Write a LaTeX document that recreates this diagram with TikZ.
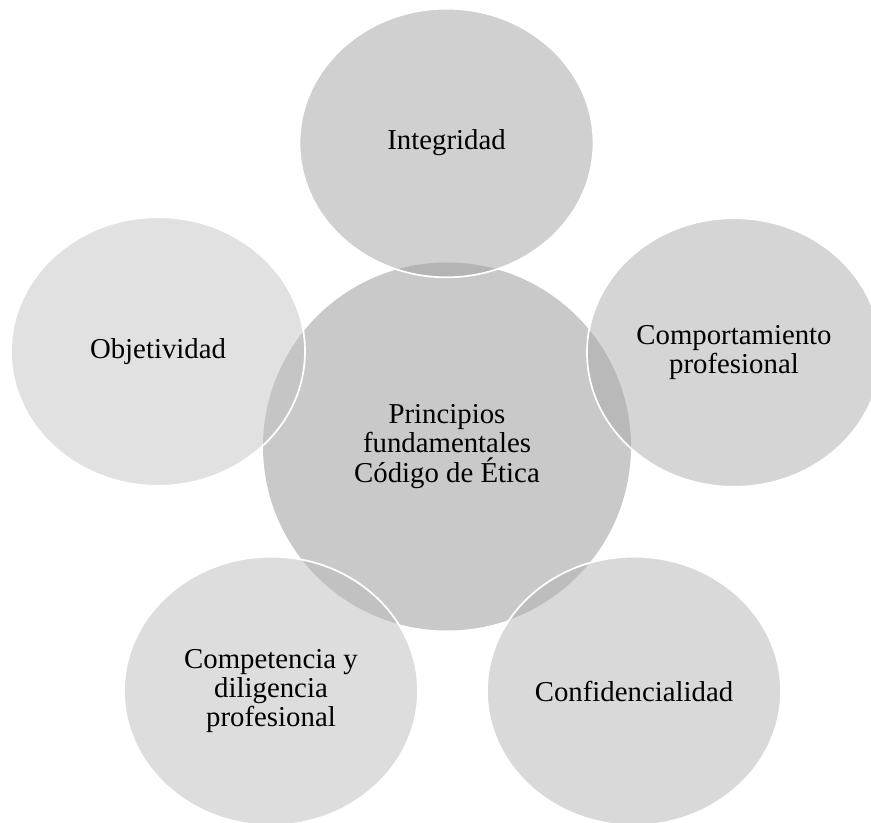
\documentclass[tikz,border=0pt]{standalone}
\usepackage{fontspec}
\setmainfont{Liberation Serif}
\usetikzlibrary{shapes.geometric}
\definecolor{cCenter}{RGB}{201,201,201}
\definecolor{cInt}{RGB}{161,161,161}
\definecolor{cComp}{RGB}{171,171,171}
\definecolor{cConf}{RGB}{179,179,179}
\definecolor{cCompet}{RGB}{187,187,187}
\definecolor{cObj}{RGB}{195,195,195}
\tikzset{
  lbl/.style={align=center, font=\fontsize{21.6}{22.1}\selectfont, text=black},
  hub/.style={lbl, circle, inner sep=0pt, minimum size=276pt, fill=cCenter},
  petal/.style={lbl, ellipse, inner sep=0pt, minimum width=220.5pt, minimum height=201.5pt,
    draw=white, line width=1.3pt, fill opacity=0.5, text opacity=1, draw opacity=1}
}
\begin{document}
\begin{tikzpicture}[x=0.75pt, y=-0.75pt]
\useasboundingbox (0,0) rectangle (871,823);
\clip (0,0) rectangle (871,823);
\node[hub] (hub) at (447,446.5) {Principios\\fundamentales\\Código de Ética};
\node[petal, fill=cInt] (int) at (446.5,143) {Integridad};
\node[petal, fill=cComp] (comp) at (734,352.5) {Comportamiento\\profesional};
\node[petal, fill=cConf] (conf) at (634,691) {Confidencialidad};
\node[petal, fill=cCompet] (compet) at (271,691) {Competencia y\\diligencia\\profesional};
\node[petal, fill=cObj] (obj) at (158,351.5) {Objetividad};
\end{tikzpicture}
\end{document}
